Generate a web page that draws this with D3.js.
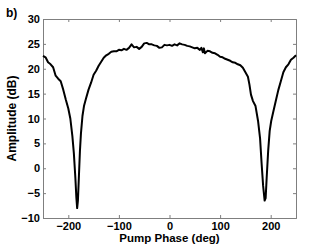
<!DOCTYPE html>
<html>
<head>
<meta charset="utf-8">
<script src="https://cdn.jsdelivr.net/npm/d3@7"></script>
<style>
  body { margin: 0; background: #fff; }
  svg text { font-family: "Liberation Sans", Arial, sans-serif; font-weight: bold; }
</style>
</head>
<body>
<div id="chart"></div>
<script>
var phase = [-250,-245,-240,-235,-230,-225,-220,-215,-210,-205,-200,-196,-192,-189,-186,-184,-182.5,-181,-179,-177,-175,-172,-169,-165,-160,-155,-150,-145,-140,-135,-130,-125,-120,-115,-110,-105,-100,-95,-90,-85,-80,-75,-70,-65,-60,-55,-50,-45,-40,-35,-30,-25,-20,-15,-10,-5,0,5,10,15,20,25,30,35,40,45,50,55,60,63,66,68,70,75,80,85,90,95,100,105,110,115,120,125,130,135,140,145,150,155,158,161,165,170,175,179,182,185,188,190,192,195,198,201,205,210,215,220,225,230,235,240,245,250];
var amplitude = [22.6,22.3,21.3,20.9,20.3,18.6,18.0,17.5,15.8,13.8,12.0,10.0,6.5,3.0,-2.0,-6.0,-8.0,-6.5,-1.5,3.5,7.0,10.5,12.5,14.0,15.8,17.2,18.8,19.6,20.6,21.4,22.2,22.7,23.0,23.4,23.5,23.5,23.8,23.7,24.0,23.8,24.2,24.9,24.3,24.4,24.0,24.4,25.1,25.2,24.9,24.9,24.7,24.6,24.2,24.3,24.8,24.7,24.8,24.6,24.9,24.7,25.1,24.9,24.8,24.6,24.5,24.3,24.1,24.2,23.8,24.2,23.3,24.1,23.1,23.6,23.5,23.2,23.1,22.8,22.4,22.3,22.0,21.8,21.6,21.3,21.2,20.9,20.7,20.2,19.3,18.4,16.8,14.8,13.5,12.5,9.5,6.0,1.0,-3.5,-6.5,-6.0,-2.0,3.5,7.5,9.5,11.3,13.5,15.7,17.5,19.3,20.3,20.9,21.8,22.2,22.7];
var xTicks = [-200,-100,0,100,200];
var yTicks = [-10,-5,0,5,10,15,20,25,30];

var width = 327, height = 246,
    margin = {top: 19, right: 31, bottom: 28, left: 43},
    w = width - margin.left - margin.right,
    h = height - margin.top - margin.bottom;

var svg = d3.select("#chart").append("svg")
    .attr("width", width)
    .attr("height", height);

var g = svg.append("g")
    .attr("transform", "translate(" + margin.left + "," + margin.top + ")");

var x = d3.scaleLinear().domain([-250, 250]).range([0, w]);
var y = d3.scaleLinear().domain([-10, 30]).range([h, 0]);

var axisColor = "#7f7f7f";

// axes with inward ticks (matlab style box)
var xb = g.append("g").attr("transform", "translate(0," + h + ")")
    .call(d3.axisBottom(x).tickValues(xTicks).tickSize(-3).tickPadding(4));
var yl = g.append("g")
    .call(d3.axisLeft(y).tickValues(yTicks).tickSize(-3).tickPadding(3));
var xt = g.append("g")
    .call(d3.axisTop(x).tickValues(xTicks).tickSize(-3).tickFormat(""));
var yr = g.append("g").attr("transform", "translate(" + w + ",0)")
    .call(d3.axisRight(y).tickValues(yTicks).tickSize(-3).tickFormat(""));

[xb, yl, xt, yr].forEach(function(a) {
  a.select(".domain").attr("stroke", axisColor).attr("stroke-width", 1);
  a.selectAll(".tick line").attr("stroke", axisColor);
  a.selectAll(".tick text")
    .attr("fill", "#000")
    .style("font-size", "11px")
    .style("font-family", "'Liberation Sans', Arial, sans-serif")
    .style("font-weight", "bold");
});

var line = d3.line()
    .x(function(d, i) { return x(phase[i]); })
    .y(function(d) { return y(d); });

g.append("path")
    .datum(amplitude)
    .attr("d", line)
    .attr("fill", "none")
    .attr("stroke", "#000")
    .attr("stroke-width", 2)
    .attr("stroke-linejoin", "round");

svg.append("text")
    .attr("x", margin.left + w / 2)
    .attr("y", 242)
    .attr("text-anchor", "middle")
    .style("font-size", "11.5px")
    .text("Pump Phase (deg)");

svg.append("text")
    .attr("transform", "translate(16," + (margin.top + h / 2) + ")rotate(-90)")
    .attr("text-anchor", "middle")
    .style("font-size", "12px")
    .text("Amplitude (dB)");

svg.append("text")
    .attr("x", 6)
    .attr("y", 17)
    .style("font-size", "12px")
    .text("b)");
</script>
</body>
</html>
